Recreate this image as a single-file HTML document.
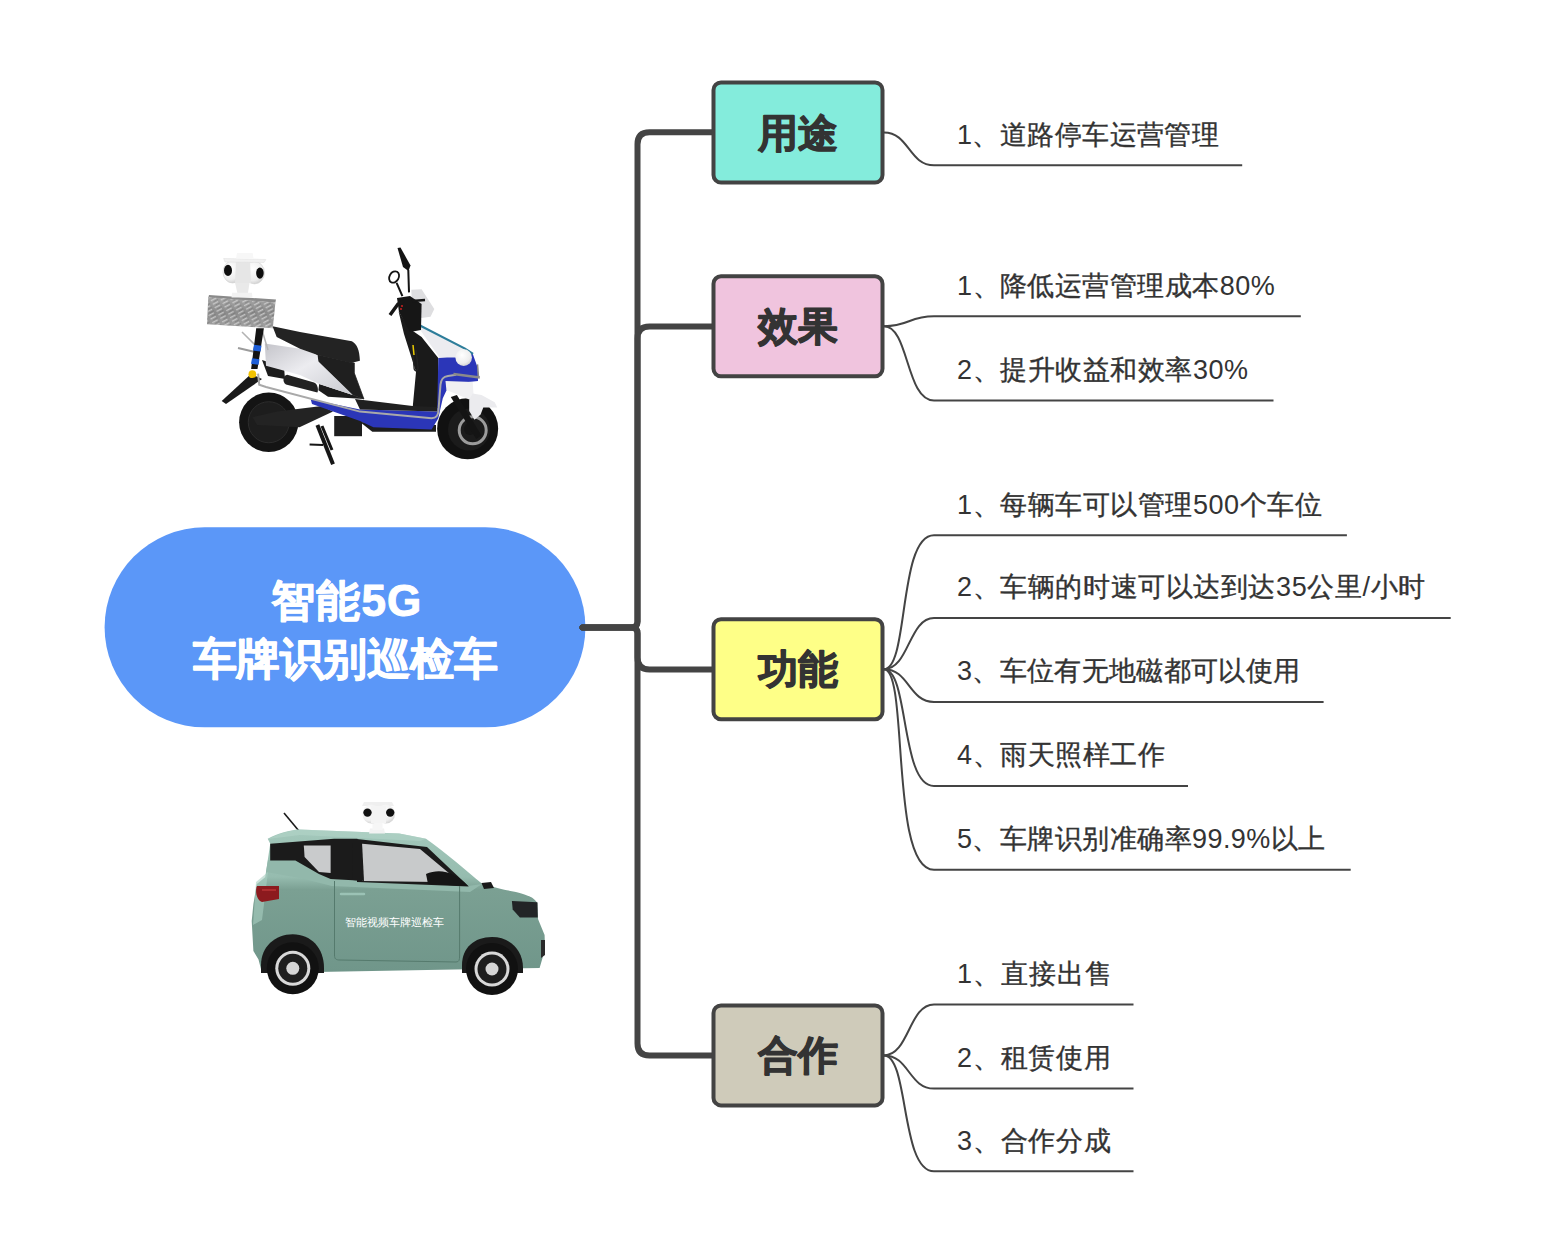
<!DOCTYPE html>
<html><head><meta charset="utf-8"><style>
html,body{margin:0;padding:0;background:#fff;width:1560px;height:1252px;overflow:hidden}
svg{position:absolute;left:0;top:0}
text{font-family:"Liberation Sans",sans-serif}
.tb{font-size:40px;font-weight:bold;fill:#333333;stroke:#333333;stroke-width:1.2px;stroke-linejoin:round}
.tl{font-size:27px;fill:#333333;stroke:#333333;stroke-width:0.35px}
.lat{stroke:none}
.tr{font-size:44px;font-weight:bold;fill:#fff;stroke:#fff;stroke-width:1px;stroke-linejoin:round}
</style></head><body>
<svg width="1560" height="1252" viewBox="0 0 1560 1252">
<rect x="104.6" y="527.3" width="480.8" height="200" rx="100" ry="100" fill="#5B97F8"/>
<path d="M582.5,627.4 H631.5 Q637.5,627.4 637.5,621.4 V144.3 Q637.5,132.3 649.5,132.3 H715" fill="none" stroke="#444444" stroke-width="6" stroke-linecap="round" stroke-linejoin="round"/>
<path d="M582.5,627.4 H631.5 Q637.5,627.4 637.5,621.4 V338.6 Q637.5,326.6 649.5,326.6 H715" fill="none" stroke="#444444" stroke-width="6" stroke-linecap="round" stroke-linejoin="round"/>
<path d="M582.5,627.4 H631.5 Q637.5,627.4 637.5,633.4 V657.5 Q637.5,669.5 649.5,669.5 H715" fill="none" stroke="#444444" stroke-width="6" stroke-linecap="round" stroke-linejoin="round"/>
<path d="M582.5,627.4 H631.5 Q637.5,627.4 637.5,633.4 V1043.4 Q637.5,1055.4 649.5,1055.4 H715" fill="none" stroke="#444444" stroke-width="6" stroke-linecap="round" stroke-linejoin="round"/>
<path d="M884,132.5 C909,132.5 909.0,165.3 934,165.3 H1242.2" fill="none" stroke="#444444" stroke-width="2"/>
<path d="M884,326.3 C909,326.3 909.0,316.3 934,316.3 H1300.8" fill="none" stroke="#444444" stroke-width="2"/>
<path d="M884,326.3 C909,326.3 905.841,400.6 934,400.6 H1273.5" fill="none" stroke="#444444" stroke-width="2"/>
<path d="M884,669.2 C909,669.2 898.08,535.2 934,535.2 H1346.9" fill="none" stroke="#444444" stroke-width="2"/>
<path d="M884,669.2 C909,669.2 908.844,618.0 934,618.0 H1450.7" fill="none" stroke="#444444" stroke-width="2"/>
<path d="M884,669.2 C909,669.2 909.0,702.0 934,702.0 H1323.6" fill="none" stroke="#444444" stroke-width="2"/>
<path d="M884,669.2 C909,669.2 900.316,786.0 934,786.0 H1188.0" fill="none" stroke="#444444" stroke-width="2"/>
<path d="M884,669.2 C909,669.2 889.422,869.8 934,869.8 H1350.7" fill="none" stroke="#444444" stroke-width="2"/>
<path d="M884,1055.4 C909,1055.4 908.87,1004.4 934,1004.4 H1133.5" fill="none" stroke="#444444" stroke-width="2"/>
<path d="M884,1055.4 C909,1055.4 909.0,1088.6 934,1088.6 H1133.5" fill="none" stroke="#444444" stroke-width="2"/>
<path d="M884,1055.4 C909,1055.4 900.433,1171.3 934,1171.3 H1133.5" fill="none" stroke="#444444" stroke-width="2"/>
<rect x="713.5" y="82.5" width="169" height="100" rx="7.5" ry="7.5" fill="#84ECDC" stroke="#434343" stroke-width="4"/>
<text x="798" y="146.5" text-anchor="middle" class="tb">用途</text>
<rect x="713.5" y="276.3" width="169" height="100" rx="7.5" ry="7.5" fill="#F0C4DE" stroke="#434343" stroke-width="4"/>
<text x="798" y="340.3" text-anchor="middle" class="tb">效果</text>
<rect x="713.5" y="619.2" width="169" height="100" rx="7.5" ry="7.5" fill="#FEFF87" stroke="#434343" stroke-width="4"/>
<text x="798" y="683.2" text-anchor="middle" class="tb">功能</text>
<rect x="713.5" y="1005.4000000000001" width="169" height="100" rx="7.5" ry="7.5" fill="#CFCBBA" stroke="#434343" stroke-width="4"/>
<text x="798" y="1069.4" text-anchor="middle" class="tb">合作</text>
<text x="957" y="143.70000000000002" class="tl" style="letter-spacing:0.433px"><tspan class="lat">1</tspan>、道路停车运营管理</text>
<text x="957" y="294.7" class="tl" style="letter-spacing:0.483px"><tspan class="lat">1</tspan>、降低运营管理成本<tspan class="lat">80%</tspan></text>
<text x="957" y="379.0" class="tl" style="letter-spacing:0.545px"><tspan class="lat">2</tspan>、提升收益和效率<tspan class="lat">30%</tspan></text>
<text x="957" y="513.6" class="tl" style="letter-spacing:0.550px"><tspan class="lat">1</tspan>、每辆车可以管理<tspan class="lat">500</tspan>个车位</text>
<text x="957" y="596.4" class="tl" style="letter-spacing:0.589px"><tspan class="lat">2</tspan>、车辆的时速可以达到达<tspan class="lat">35</tspan>公里<tspan class="lat">/</tspan>小时</text>
<text x="957" y="680.4" class="tl" style="letter-spacing:0.317px"><tspan class="lat">3</tspan>、车位有无地磁都可以使用</text>
<text x="957" y="764.4" class="tl" style="letter-spacing:0.529px"><tspan class="lat">4</tspan>、雨天照样工作</text>
<text x="957" y="848.1999999999999" class="tl" style="letter-spacing:0.440px"><tspan class="lat">5</tspan>、车牌识别准确率<tspan class="lat">99.9%</tspan>以上</text>
<text x="957" y="982.8" class="tl" style="letter-spacing:0.980px"><tspan class="lat">1</tspan>、直接出售</text>
<text x="957" y="1067.0" class="tl" style="letter-spacing:0.800px"><tspan class="lat">2</tspan>、租赁使用</text>
<text x="957" y="1149.7" class="tl" style="letter-spacing:0.740px"><tspan class="lat">3</tspan>、合作分成</text>
<text x="346.8" y="616" text-anchor="middle" class="tr" style="letter-spacing:1px">智能5G</text>
<text x="345" y="674" text-anchor="middle" class="tr" style="letter-spacing:-0.5px">车牌识别巡检车</text>
<g id="scooter">
<defs>
<linearGradient id="boxg" x1="0" y1="0" x2="0" y2="1">
<stop offset="0" stop-color="#a6a6a6"/><stop offset="0.5" stop-color="#8c8c8c"/><stop offset="1" stop-color="#a2a2a2"/>
</linearGradient>
<pattern id="boxp" width="9" height="4" patternUnits="userSpaceOnUse" patternTransform="rotate(-28)">
<rect x="0" y="0" width="6" height="1.3" fill="#e6e6e6" opacity="0.6"/>
<rect x="2" y="2.2" width="5" height="1" fill="#555" opacity="0.35"/>
</pattern>
<linearGradient id="panelg" x1="0" y1="0" x2="1" y2="1">
<stop offset="0" stop-color="#c4c4ca"/><stop offset="0.45" stop-color="#ececf0"/><stop offset="1" stop-color="#c9cad0"/>
</linearGradient>
<radialGradient id="ballg" cx="0.4" cy="0.35" r="0.7">
<stop offset="0" stop-color="#ffffff"/><stop offset="0.7" stop-color="#eeeeee"/><stop offset="1" stop-color="#cdcdcd"/>
</radialGradient>
<clipPath id="boxclip"><path d="M208.3,296.9 L275.4,302.6 L272.8,328.2 L207,324.3 Z"/></clipPath>
</defs>
<!-- rear wheel -->
<circle cx="268.75" cy="422.25" r="29.65" fill="#141414"/>
<circle cx="268.75" cy="422.25" r="20.5" fill="#1d1d1d" stroke="#2c2c2c" stroke-width="1"/>
<!-- rear fender wedge -->
<path d="M251,374 L262,379 L226,404 L221.7,401 Z" fill="#191919"/>
<!-- under-seat black body -->
<path d="M316.5,354.5 L351.1,362.5 L354.3,363 L354.3,373 L363.9,399 L352.7,395 L318.4,361.5 Z" fill="#1f1f1f" stroke="#1f1f1f" stroke-width="0.8"/><path d="M319.2,383.9 L352.7,395 L363.9,399 L328,396.7 L318.4,390.3 Z" fill="#1c1c1c"/><path d="M262,360 L268,376 L285,379 L284,367 Z" fill="#1c1c1c"/>
<!-- leg shield / steering column black -->
<path d="M398.6,311.6 L410,329 L421.6,337 L438.3,357.9 L438.3,408.2 L412.6,408.2 L416,372 L404,334 Z" fill="#1a1a1a"/>
<!-- swing arm -->
<path d="M252.5,417.2 L277.1,411.6 L321.9,406 L333,411.6 L299.5,427.2 L257,425 Z" fill="#232323"/>
<!-- motor box -->
<rect x="334.2" y="416" width="27.8" height="20.2" fill="#1e1e1e"/>
<path d="M360,422 L436,425 L436,431.7 L372.3,431.7 Z" fill="#1d1d1d"/>
<!-- center stand -->
<path d="M317.4,425 L333,464.2" stroke="#161616" stroke-width="4" fill="none"/>
<path d="M322,426 L332,450" stroke="#161616" stroke-width="3" fill="none"/>
<path d="M309.6,444.6 L323,445.1" stroke="#161616" stroke-width="2" fill="none"/>
<!-- blue lower body -->
<path d="M310.7,399.3 L360,409.4 L437.2,411.6 L438.3,357.9 L456,356 L472.7,353.7 L477.8,368 L478,381 L449.5,384 L442.8,398.2 L438.3,418.3 L431.6,429.5 L373.4,427.2 L360,421 L312,404 Z" fill="#2b36b8"/>
<!-- floorboard black -->
<path d="M355,399 L412.6,406 L437.2,407 L437.2,411.6 L360,409.4 Z" fill="#202020"/>
<!-- silver side panel -->
<path d="M264.8,343.4 L300,348.8 L317.6,355.1 L318.4,361.5 L352.7,395 L319.2,383.9 L300,375.1 L266,365.7 Z" fill="url(#panelg)"/>
<!-- seat -->
<path d="M272.5,326.3 L300,332 L351.9,341.2 C357,344 359.5,350 359.9,360.7 L351.1,363.1 L317.6,355.1 L300,348.8 L276.7,337 Z" fill="#232323"/>
<!-- foot peg board -->
<path d="M287.2,374.7 L314,382.5 C318,384 318.5,390 317.4,392.6 L286,384.5 C282,382 283,375.5 287.2,374.7 Z" fill="#222"/>
<!-- chrome rail -->
<path d="M258.1,373.6 L259.2,384.7 L266,387 L360,411.6 L431.6,418.3 C437,418 438.3,415 438.5,410 L440.5,384.7 C441,379 443,376.9 448,376 L456.2,374.7" stroke="#a9a9a9" stroke-width="2" fill="none"/>
<path d="M242,332 L257.5,347.4 M262,330 L268,350" stroke="#b3b3b3" stroke-width="1.5" fill="none"/>
<path d="M238,348 L255,352" stroke="#9c9c9c" stroke-width="2" fill="none"/>
<!-- pole -->
<path d="M256.2,328.2 L263.9,328.2 L257.5,369 L251.1,369 Z" fill="#141414"/>
<path d="M254,344.8 L261.5,345.8 L260.6,351.6 L253,350.6 Z" fill="#1f5fd8"/>
<path d="M252,358.2 L259.5,359.2 L258.6,364.8 L251,363.8 Z" fill="#1f5fd8"/>
<circle cx="252.4" cy="374.2" r="3.9" fill="#f2c200"/>
<!-- box -->
<path d="M209,295 L276,299.5 L275.4,302.6 L208.3,297.5 Z" fill="#8a8a8a"/>
<path d="M208.3,296.9 L275.4,302.6 L272.8,328.2 L207,324.3 Z" fill="url(#boxg)"/>
<rect x="200" y="290" width="80" height="45" fill="url(#boxp)" clip-path="url(#boxclip)"/>
<!-- camera -->
<path d="M235.1,283.1 L249.5,283.1 L247.9,293.5 L237.5,293.5 Z" fill="#e9e9e9"/>
<path d="M232,292.7 L252,292.7 L252.5,297.5 L231.5,297.5 Z" fill="#f2f2f2"/>
<ellipse cx="232.5" cy="272" rx="9.5" ry="11" fill="url(#ballg)" stroke="#d0d0d0" stroke-width="0.6"/>
<ellipse cx="254.5" cy="272.7" rx="10" ry="11.2" fill="url(#ballg)" stroke="#d0d0d0" stroke-width="0.6"/>
<path d="M236,262 L250,262 L251,283 L235,283 Z" fill="#e6e6e6"/>
<path d="M223.6,258.5 L265.9,259.5 L264,262.5 L225,262 Z" fill="#f1f1f1" stroke="#dcdcdc" stroke-width="0.5"/>
<path d="M237,253 L252.7,253 L253.5,258.5 L236,258.5 Z" fill="#f7f7f7"/>
<ellipse cx="228" cy="270.4" rx="4" ry="5.6" fill="#0e0e0e"/>
<ellipse cx="259.9" cy="273.1" rx="3.8" ry="5.6" fill="#0e0e0e"/>
<!-- white front body -->
<path d="M417.7,324.3 L465,348.6 L472.7,353.7 L456,357.6 L439.5,357.6 L421.6,332 Z" fill="#ececf0"/>
<path d="M419,325 L465,348.6 L473,354" stroke="#2d7d9a" stroke-width="2.2" fill="none"/>
<!-- windscreen -->
<path d="M411.3,289.8 L421.6,289.2 L434.3,309 L430.5,316.7 L412.6,319.2 Z" fill="#dedee0"/>
<!-- handlebar housing -->
<path d="M397,298 L410,296 L421.6,304 L421,330 L410,332 L399,312 Z" fill="#161616"/>
<path d="M390,315 L398,304 L404,301" stroke="#161616" stroke-width="3.5" fill="none"/>
<path d="M412,301 L425,300" stroke="#161616" stroke-width="2.5" fill="none"/>
<circle cx="402" cy="306" r="0.9" fill="#d22"/><circle cx="401" cy="309" r="0.9" fill="#d22"/>
<!-- mirrors -->
<path d="M397.5,248 L400.5,247.5 L410.5,265.5 L408.5,271 L403,267 Z" fill="#141414"/>
<path d="M408.3,270 L409,292.4" stroke="#141414" stroke-width="2" fill="none"/>
<ellipse cx="394.1" cy="277" rx="4.6" ry="6" fill="none" stroke="#141414" stroke-width="1.8" transform="rotate(30 394.1 277)"/>
<path d="M396.6,282.8 L402.4,296.2" stroke="#141414" stroke-width="2" fill="none"/>
<!-- keychain -->
<path d="M412,343 L414,367 C414,372 418,372 418,367 L416,350" stroke="#222" stroke-width="1.3" fill="none"/>
<path d="M413,345 L414,355" stroke="#e8c800" stroke-width="1.5" fill="none"/>
<!-- headlight ball -->
<circle cx="463.7" cy="357.6" r="8.3" fill="url(#ballg)"/>
<!-- front wheel -->
<circle cx="467.65" cy="428.75" r="30.5" fill="#111111"/>
<circle cx="469" cy="429.5" r="21" fill="#1b1b1b"/>
<circle cx="472.7" cy="430.3" r="13.5" fill="none" stroke="#9c9c9c" stroke-width="3"/>
<circle cx="470" cy="429" r="6" fill="#151515"/>
<!-- fork -->
<path d="M450.8,396.9 L456.9,395.1 L481.5,435.6 L476.2,439.1 Z" fill="#141414"/>
<!-- front lower cowl white -->
<path d="M445.5,381.1 L472.7,382 L473.6,395.2 L469.2,399.5 L456.9,394.3 L446.4,389.9 Z" fill="#f0f0f2"/>
<!-- front fender -->
<path d="M472.7,393.4 L481.5,395.1 L494.7,402.2 L497.3,407.5 L483.3,407.5 L480.6,414.5 L474.5,419.8 L469.2,411 L469.2,399.5 Z" fill="#ebebee"/>
<path d="M453.4,374 L479.8,377.6" stroke="#8a8a8a" stroke-width="2.5" fill="none"/>
<path d="M477.5,364.4 L478.5,377" stroke="#8a8a8a" stroke-width="1.5" fill="none"/>
</g>
<g id="car">
<defs>
<linearGradient id="carg" x1="0" y1="830" x2="0" y2="972" gradientUnits="userSpaceOnUse">
<stop offset="0" stop-color="#a3c8bb"/><stop offset="0.33" stop-color="#96bcaf"/><stop offset="0.42" stop-color="#7ba093"/><stop offset="1" stop-color="#70968a"/>
</linearGradient>
<radialGradient id="camg" cx="0.4" cy="0.35" r="0.7">
<stop offset="0" stop-color="#ffffff"/><stop offset="0.7" stop-color="#efefef"/><stop offset="1" stop-color="#cfcfcf"/>
</radialGradient>
</defs>
<!-- antenna -->
<path d="M284,813 L299,831" stroke="#1a1a1a" stroke-width="1.6" fill="none"/>
<!-- body silhouette -->
<path d="M267.7,838.7 C278,833 290,830 298.7,829.4 L399.4,833.6 L426,838.7 C445,852 468,872 481.5,883.2 C490,886 500,889 515.9,892 C524,894 529,896 531.9,897.5 C534,899 536,901 537.4,903.1 L538,919 L544.6,935 L545,949.5 L539.6,968 L262,973 L258.5,959.5 L253.4,951 L251.7,920.9 L253.4,904 L256.8,884 L265.2,877.2 L270.2,843.7 Z" fill="url(#carg)"/>
<!-- roof highlight -->
<path d="M268,839 C280,833 292,830 300,829.5 L399,833.6 L426,838.7 L420,841 L300,835 Z" fill="#b2d3c8" opacity="0.6"/>
<!-- beltline highlight -->
<path d="M268,860 L296,860 L319,874 L332,879 L468,886 L482,884 L470,892 L332,886 L300,878 L266,872 Z" fill="#92b8ab"/>
<!-- rear black band -->
<path d="M270.2,843.7 L334,838.7 L357.4,838.7 L357.4,880.6 L330.6,878.9 L318.9,873.9 L295.4,860.5 L270.2,860.5 Z" fill="#1b1b1b"/>
<!-- rear quarter window -->
<path d="M303.8,845.4 L330.6,845.4 L330.6,873 L319,872 L304.6,857 Z" fill="#c9cbcc"/>
<!-- door window frame -->
<path d="M357,839 L427,847 L468.8,886.4 L357,882 Z" fill="#1b1b1b"/>
<path d="M354,843 L420,849 L450,874 L437,882 L362,881 C363,870 361,850 354,843 Z" fill="#c8cacb"/>
<path d="M352,842 L362,842 L364,881 L353,880 Z" fill="#1b1b1b"/>
<!-- side mirror -->
<path d="M426,874 C440,868 455,872 468,886 L428,884 Z" fill="#151515"/>
<path d="M481.5,883 L491,882 L494,888 L484,889 Z" fill="#1a1a1a"/>
<!-- rear side light strip -->
<path d="M256,882 L268,872 L262,920 L253,925 Z" fill="#a9cfc2" opacity="0.6"/>
<!-- tail light -->
<path d="M257,886 L279,886 L279,899 L262,902 C256,900 255,890 257,886 Z" fill="#8c1a1e"/>
<path d="M262,890 L276,890" stroke="#d04040" stroke-width="1" fill="none"/>
<!-- headlight -->
<path d="M511.9,901.1 L537.4,902.3 L537.8,917.5 L519.9,917.5 L512.7,909.5 Z" fill="#222426"/>
<!-- door outlines -->
<path d="M334.5,881 L334.5,955 C334.5,959 336,960 340,960 L456,962 C459,962 459.6,960 459.6,956 L459.6,886" stroke="#557a6d" stroke-width="1" fill="none"/>
<path d="M341,894 L364,894" stroke="#9bc2b5" stroke-width="2.5" fill="none" stroke-linecap="round"/>
<!-- wheel arches -->
<path d="M261,973 L261,965 C261,947 275,934.3 292.8,934.3 C311,934.3 324,948 324,968 L324,973 Z" fill="#1a1a1a"/>
<path d="M462,973 L462,965 C462,948 474,937 492,937 C510,937 523,950 523,968 L523,973 Z" fill="#1a1a1a"/>
<!-- wheels -->
<circle cx="292.8" cy="968.3" r="26" fill="#111"/>
<circle cx="292.8" cy="968.3" r="17.5" fill="#d8d8d8"/>
<circle cx="292.8" cy="968.3" r="14.5" fill="#1e1e1e"/>
<circle cx="292.8" cy="968.3" r="6.5" fill="#d6d6d6"/>
<circle cx="492" cy="969" r="26" fill="#111"/>
<circle cx="492" cy="969" r="17.5" fill="#d8d8d8"/>
<circle cx="492" cy="969" r="14.5" fill="#1e1e1e"/>
<circle cx="492" cy="969" r="6.5" fill="#d6d6d6"/>
<!-- front bumper dark -->
<path d="M541,940 L545,940 L545,955 L541,958 Z" fill="#2a2a2a"/>
<!-- door text -->
<text x="394" y="926" text-anchor="middle" style="font-size:11px;fill:#ffffff;font-family:'Liberation Sans',sans-serif">智能视频车牌巡检车</text>
<!-- camera -->
<path d="M370,828.6 L384,828.6 L385,833.6 L369,833.6 Z" fill="#f2f2f2"/>
<rect x="372.5" y="822" width="10" height="8" fill="#f6f6f6"/>
<path d="M364,802 L392,802 L394,806 L362,806 Z" fill="#efefef"/>
<ellipse cx="371.5" cy="814" rx="9" ry="9.5" fill="url(#camg)"/>
<ellipse cx="386" cy="814" rx="9" ry="9.5" fill="url(#camg)"/>
<rect x="371" y="806" width="15" height="17" fill="#f4f4f4"/>
<circle cx="367.5" cy="812.6" r="4.2" fill="#111"/>
<circle cx="390.2" cy="812.6" r="4.2" fill="#111"/>
</g>

</svg>
</body></html>
